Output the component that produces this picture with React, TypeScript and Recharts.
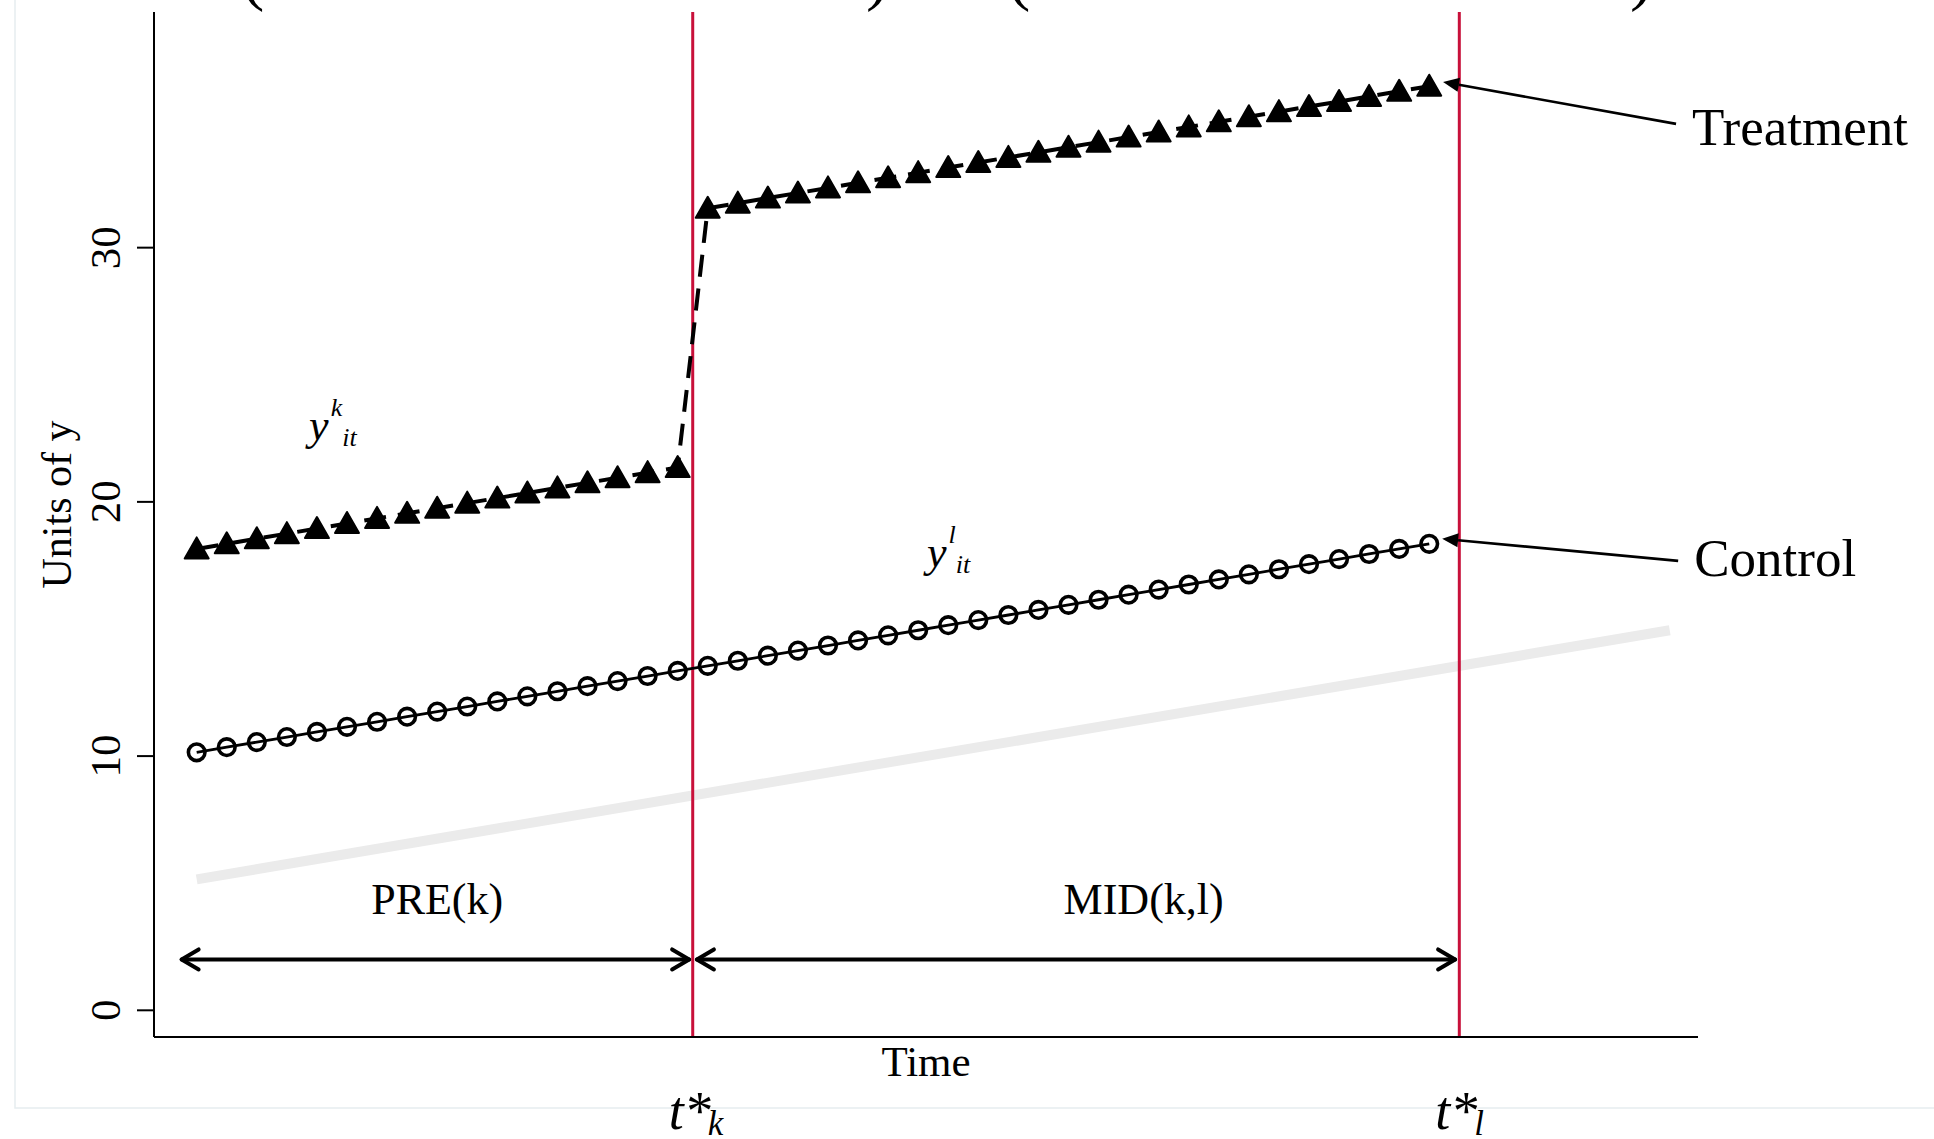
import React from 'react'
import { LineChart, Line, XAxis, YAxis, ReferenceLine, ReferenceDot } from 'recharts'

const SERIF = '"Liberation Serif", "Times New Roman", serif'
const RED = '#c8103a'

// time index of each observation
const periods = [
  0, 1, 2, 3, 4, 5, 6, 7, 8, 9, 10, 11, 12, 13, 14, 15, 16, 17, 18, 19, 20,
  21, 22, 23, 24, 25, 26, 27, 28, 29, 30, 31, 32, 33, 34, 35, 36, 37, 38, 39, 40, 41,
]
const controlValues = [
  10.15, 10.35, 10.55, 10.75, 10.95, 11.15, 11.35, 11.55, 11.75, 11.95, 12.15,
  12.35, 12.55, 12.75, 12.95, 13.15, 13.35, 13.55, 13.75, 13.95, 14.15, 14.35,
  14.55, 14.75, 14.95, 15.15, 15.35, 15.55, 15.75, 15.95, 16.15, 16.35, 16.55,
  16.75, 16.95, 17.15, 17.35, 17.55, 17.75, 17.95, 18.15, 18.35,
]
const treatmentValues = [
  18.15, 18.35, 18.55, 18.75, 18.95, 19.15, 19.35, 19.55, 19.75, 19.95, 20.15,
  20.35, 20.55, 20.75, 20.95, 21.15, 21.35, 31.55, 31.75, 31.95, 32.15, 32.35,
  32.55, 32.75, 32.95, 33.15, 33.35, 33.55, 33.75, 33.95, 34.15, 34.35, 34.55,
  34.75, 34.95, 35.15, 35.35, 35.55, 35.75, 35.95, 36.15, 36.35,
]
// light grey trend in the background
const trendPeriods = [0, 49]
const trendValues = [5.15, 14.95]

// event dates t*_k and t*_l
const eventTimes = [16.5, 42]
const eventNames = ['k', 'l']

const yTicks = [0, 10, 20, 30]
const xDomain = [-1.42, 49.94]
const yDomain = [-1.05, 39.27]

// period spans drawn as double arrows
const spanNames = ['PRE(k)', 'MID(k,l)']
const spanFrom = [-0.5, 16.64]
const spanTo = [16.38, 41.86]
const spanLevel = 2
const spanLabelT = [8.0, 31.5]
const spanLabelLevel = 3.8

// pointers to the last observation of each group
const pointerNames = ['Treatment', 'Control']
const pointerTipT = [41.46, 41.43]
const pointerTipY = [36.52, 18.55]
const pointerTailT = [49.21, 49.28]
const pointerTailY = [34.87, 17.68]

// y^k_it, y^l_it annotations
const mathSup = ['k', 'l']
const mathT = [3.74, 24.29]
const mathY = [22.42, 17.43]

const treatmentData = periods.map((t, i) => ({ t, v: treatmentValues[i] }))
const controlData = periods.map((t, i) => ({ t, v: controlValues[i] }))
const trendData = trendPeriods.map((t, i) => ({ t, v: trendValues[i] }))

function TriangleDot(props: any) {
  const { cx, cy, index } = props
  if (cx == null || cy == null) return <g key={`tri-${index}`} />
  return (
    <polygon
      key={`tri-${index}`}
      points={`${cx},${cy - 11.5} ${cx + 12},${cy + 9.5} ${cx - 12},${cy + 9.5}`}
      fill="#000" stroke="#000" strokeWidth={2} strokeLinejoin="round"
    />
  )
}

function YTick(props: any) {
  const { x, y, payload } = props
  return (
    <text x={x} y={y} transform={`rotate(-90, ${x}, ${y})`} textAnchor="middle"
      fontFamily={SERIF} fontSize={43} fill="#000">
      {payload.value}
    </text>
  )
}

function SpanArrow(props: any) {
  const { x1, y1, x2, y2 } = props
  const h = 17, w = 10
  return (
    <g stroke="#000" strokeWidth={4} fill="none" strokeLinecap="round" strokeLinejoin="round">
      <line x1={x1} y1={y1} x2={x2} y2={y2} />
      <polyline points={`${x1 + h},${y1 - w} ${x1},${y1} ${x1 + h},${y1 + w}`} />
      <polyline points={`${x2 - h},${y2 - w} ${x2},${y2} ${x2 - h},${y2 + w}`} />
    </g>
  )
}

function pointerShape(label: string, dy: number) {
  return (props: any) => {
    const { x1, y1, x2, y2 } = props
    const dx = x2 - x1
    const ddy = y2 - y1
    const len = Math.hypot(dx, ddy) || 1
    const ux = dx / len
    const uy = ddy / len
    const L = 16, W = 7
    const bx = x1 + ux * L
    const by = y1 + uy * L
    return (
      <g>
        <line x1={bx} y1={by} x2={x2} y2={y2} stroke="#000" strokeWidth={2.6} />
        <polygon points={`${x1},${y1} ${bx - uy * W},${by + ux * W} ${bx + uy * W},${by - ux * W}`} fill="#000" />
        <text x={x2 + 16} y={y2 + dy} fontFamily={SERIF} fontSize={53} fill="#000">{label}</text>
      </g>
    )
  }
}

const vbOf = (p: any) => p.viewBox ?? { x: p.x ?? 0, y: p.y ?? 0, width: 0, height: 0 }

function eventLabel(name: string) {
  return (p: any) => {
    const vb = vbOf(p)
    return (
      <text x={vb.x - 24} y={vb.y + vb.height + 92} fontFamily={SERIF} fontStyle="italic" fill="#000">
        <tspan fontSize={54}>t*</tspan>
        <tspan fontSize={35} dx={-3} dy={6}>{name}</tspan>
      </text>
    )
  }
}

function mathLabel(sup: string) {
  return (p: any) => {
    const vb = vbOf(p)
    return (
      <text x={vb.x} y={vb.y} fontFamily={SERIF} fontStyle="italic" fill="#000">
        <tspan fontSize={44}>y</tspan>
        <tspan fontSize={26} dx={2} dy={-24}>{sup}</tspan>
        <tspan fontSize={26} dy={30}>it</tspan>
      </text>
    )
  }
}

function centerLabel(text: string) {
  return (p: any) => {
    const vb = vbOf(p)
    return (
      <text x={vb.x} y={vb.y} textAnchor="middle" fontFamily={SERIF} fontSize={44} fill="#000">{text}</text>
    )
  }
}

const pointerDy = [21, 15]

export default function App() {
  return (
    <div style={{ position: 'absolute', left: 0, top: 0, width: 1934, height: 1139, background: '#fff' }}>
      <svg width={1934} height={1139} style={{ position: 'absolute', left: 0, top: 0, pointerEvents: 'none' }}>
        <polyline points="15,0 15,1108 1934,1108" fill="none" stroke="#e6edf0" strokeWidth={1.5} />
        {/* bottoms of a title that lies above the picture */}
        <text x={241} y={-3} fontFamily={SERIF} fontSize={70} fill="#000">(</text>
        <text x={866} y={-3} fontFamily={SERIF} fontSize={70} fill="#000">)</text>
        <text x={1007} y={-3} fontFamily={SERIF} fontSize={70} fill="#000">(</text>
        <text x={1630} y={-3} fontFamily={SERIF} fontSize={70} fill="#000">)</text>
      </svg>
      <div style={{ position: 'absolute', left: 0, top: 0 }}>
        <LineChart width={1934} height={1139} margin={{ top: 12, right: 236, left: 0, bottom: 0 }}>
          <XAxis
            type="number" dataKey="t" domain={xDomain} allowDataOverflow
            tick={false} tickLine={false} height={102}
            axisLine={{ stroke: '#000', strokeWidth: 2 }}
            label={{
              content: (p: any) => {
                const vb = vbOf(p)
                return (
                  <text x={vb.x + vb.width / 2} y={vb.y + 39} textAnchor="middle"
                    fontFamily={SERIF} fontSize={43} fill="#000">Time</text>
                )
              },
            }}
          />
          <YAxis
            type="number" domain={yDomain} allowDataOverflow ticks={yTicks}
            width={154} tickSize={17} tickMargin={17} tick={<YTick />}
            tickLine={{ stroke: '#000', strokeWidth: 2 }}
            axisLine={{ stroke: '#000', strokeWidth: 2 }}
            label={{
              content: (p: any) => {
                const vb = vbOf(p)
                const cx = vb.x + 71
                const cy = vb.y + vb.height / 2 - 20
                return (
                  <text x={cx} y={cy} transform={`rotate(-90, ${cx}, ${cy})`} textAnchor="middle"
                    fontFamily={SERIF} fontSize={42} fill="#000">Units of y</text>
                )
              },
            }}
          />

          <Line data={trendData} dataKey="v" stroke="#ebebeb" strokeWidth={10}
            dot={false} activeDot={false} isAnimationActive={false} />

          {eventTimes.map((t, i) => (
            <ReferenceLine key={`ev-${i}`} x={t} stroke={RED} strokeWidth={3}
              label={{ content: eventLabel(eventNames[i]) }} />
          ))}

          <Line data={controlData} dataKey="v" stroke="#000" strokeWidth={2.8}
            dot={{ r: 8.3, fill: 'none', stroke: '#000', strokeWidth: 3.6 }}
            activeDot={false} isAnimationActive={false} />
          <Line data={treatmentData} dataKey="v" stroke="#000" strokeWidth={4}
            strokeDasharray="22 12" dot={TriangleDot}
            activeDot={false} isAnimationActive={false} />

          {spanNames.map((n, i) => (
            <ReferenceLine key={`span-${i}`}
              segment={[{ x: spanFrom[i], y: spanLevel }, { x: spanTo[i], y: spanLevel }]}
              shape={SpanArrow} />
          ))}
          {spanNames.map((n, i) => (
            <ReferenceDot key={`spanlab-${i}`} x={spanLabelT[i]} y={spanLabelLevel} r={0}
              fill="none" stroke="none" label={{ content: centerLabel(n) }} />
          ))}

          {pointerNames.map((n, i) => (
            <ReferenceLine key={`ptr-${i}`}
              segment={[{ x: pointerTipT[i], y: pointerTipY[i] }, { x: pointerTailT[i], y: pointerTailY[i] }]}
              shape={pointerShape(n, pointerDy[i])} />
          ))}

          {mathSup.map((s, i) => (
            <ReferenceDot key={`math-${i}`} x={mathT[i]} y={mathY[i]} r={0}
              fill="none" stroke="none" label={{ content: mathLabel(s) }} />
          ))}
        </LineChart>
      </div>
    </div>
  )
}
